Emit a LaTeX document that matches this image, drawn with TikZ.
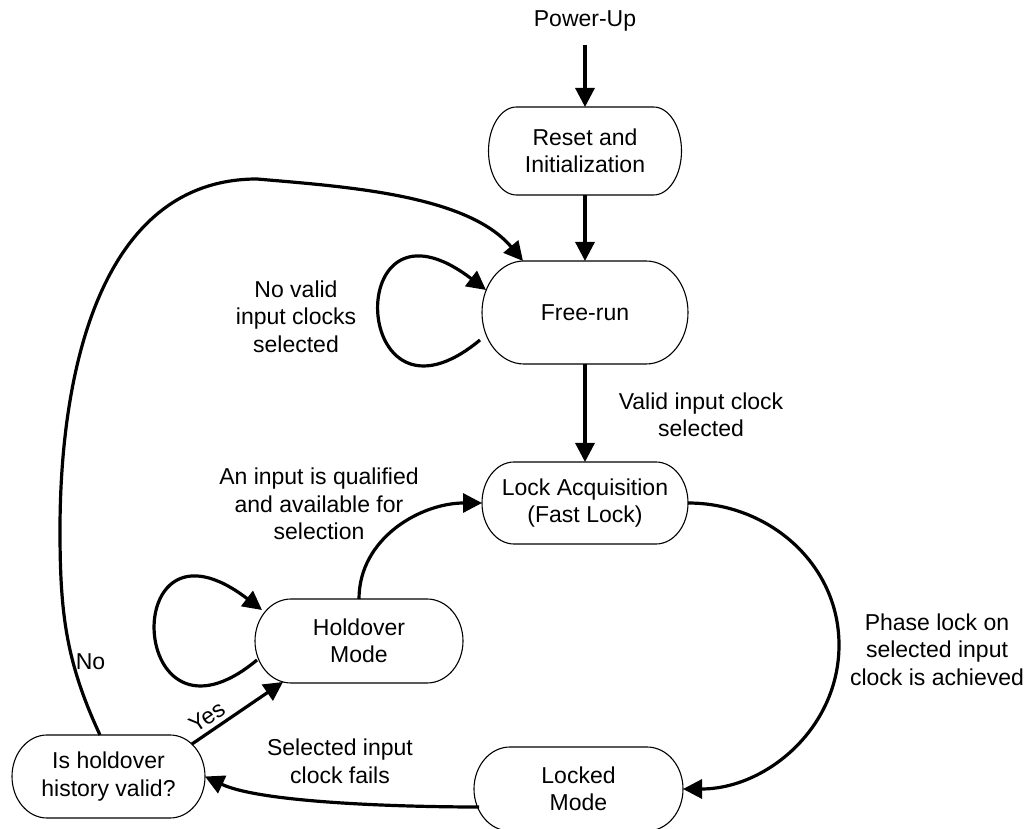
\documentclass[tikz,border=0pt]{standalone}
\usepackage{fontspec}
\setmainfont{Liberation Sans}
\usetikzlibrary{arrows.meta}
\tikzset{
  txt/.style={font=\fontsize{23pt}{27.5pt}\selectfont, align=center, inner sep=0pt, outer sep=0pt},
  boxline/.style={line width=1.1pt},
  arr/.style={line width=3.2pt, -{Triangle[length=19pt,width=19pt]}},
}
\newcommand\stbox[7]{%
  \node[txt, minimum width=#4pt, minimum height=#5pt] (#1) at (#2,#3) {#7};
  \draw[boxline] ([xshift=#6pt]#1.north west) -- ([xshift=-#6pt]#1.north east)
    arc[start angle=90, end angle=-90, x radius=#6pt, y radius=#5pt/2]
    -- ([xshift=#6pt]#1.south west)
    arc[start angle=270, end angle=90, x radius=#6pt, y radius=#5pt/2] -- cycle;
}
\begin{document}
\begin{tikzpicture}[x=1pt,y=1pt]
\useasboundingbox (0,0) rectangle (1030,828);
% states
\stbox{reset}{585}{677}{193}{88}{28}{Reset and\\Initialization}
\stbox{free}{585}{515.5}{206}{103}{42}{Free-run}
\stbox{lock}{585}{325}{206}{82}{32}{Lock Acquisition\\(Fast Lock)}
\stbox{hold}{359}{187}{208}{84}{36}{Holdover\\Mode}
\stbox{isvalid}{108.5}{51.5}{193}{83}{35}{Is holdover\\history valid?}
\stbox{locked}{578.5}{39}{209}{84}{36}{Locked\\Mode}
% start text
\node[txt, anchor=base] (pu) at (585,801.3) {Power-Up};
% waypoints
\coordinate (arcmid) at (839,183);
\coordinate (nA) at (60,298);
\coordinate (nB) at (257,649);
% connectors
\draw[arr, shorten <=13.5pt] (pu.south) -- (reset.north);
\draw[arr] (reset.south) -- (free.north);
\draw[arr] (free.south) -- (lock.north);
\draw[arr] (lock.east) to[out=0,in=90] (arcmid) to[out=-90,in=0] (locked.east);
\draw[arr] ([shift={(5,-18)}]locked.west) to[out=180,in=-25,looseness=0.6] (isvalid.east);
\draw[arr] ([shift={(83.5,32.5)}]isvalid.center) -- node[txt, pos=0.25, sloped, above=6pt] (yes) {Yes} ([shift={(-76,-41)}]hold.center);
\draw[arr] ([xshift=-8.5pt]isvalid.north) to[out=115,in=-90] (nA) to[out=90,in=180] (nB) to[out=-5,in=130,looseness=0.8] ([xshift=-62pt]free.north);
\draw[arr] (hold.north) to[out=90,in=180] (lock.west);
\draw[arr] ([shift={(-2,-27.5)}]free.west) .. controls +(-130,-108) and +(-146,112) .. ([shift={(4,22.5)}]free.west);
\draw[arr] ([shift={(2,-19)}]hold.west) .. controls +(-130,-108) and +(-146,112) .. ([shift={(7,31)}]hold.west);
% labels
\node[txt] (nolab) at (90.5,166) {No};
\node[txt] (lnv) at (296,511.5) {No valid\\input clocks\\selected};
\node[txt] (lvic) at (701,413) {Valid input clock\\selected};
\node[txt] (laiq) at (319,324) {An input is qualified\\and available for\\selection};
\node[txt] (lpl) at (937,178.5) {Phase lock on\\selected input\\clock is achieved};
\node[txt] (lsic) at (340,66.5) {Selected input\\clock fails};
\end{tikzpicture}
\end{document}
